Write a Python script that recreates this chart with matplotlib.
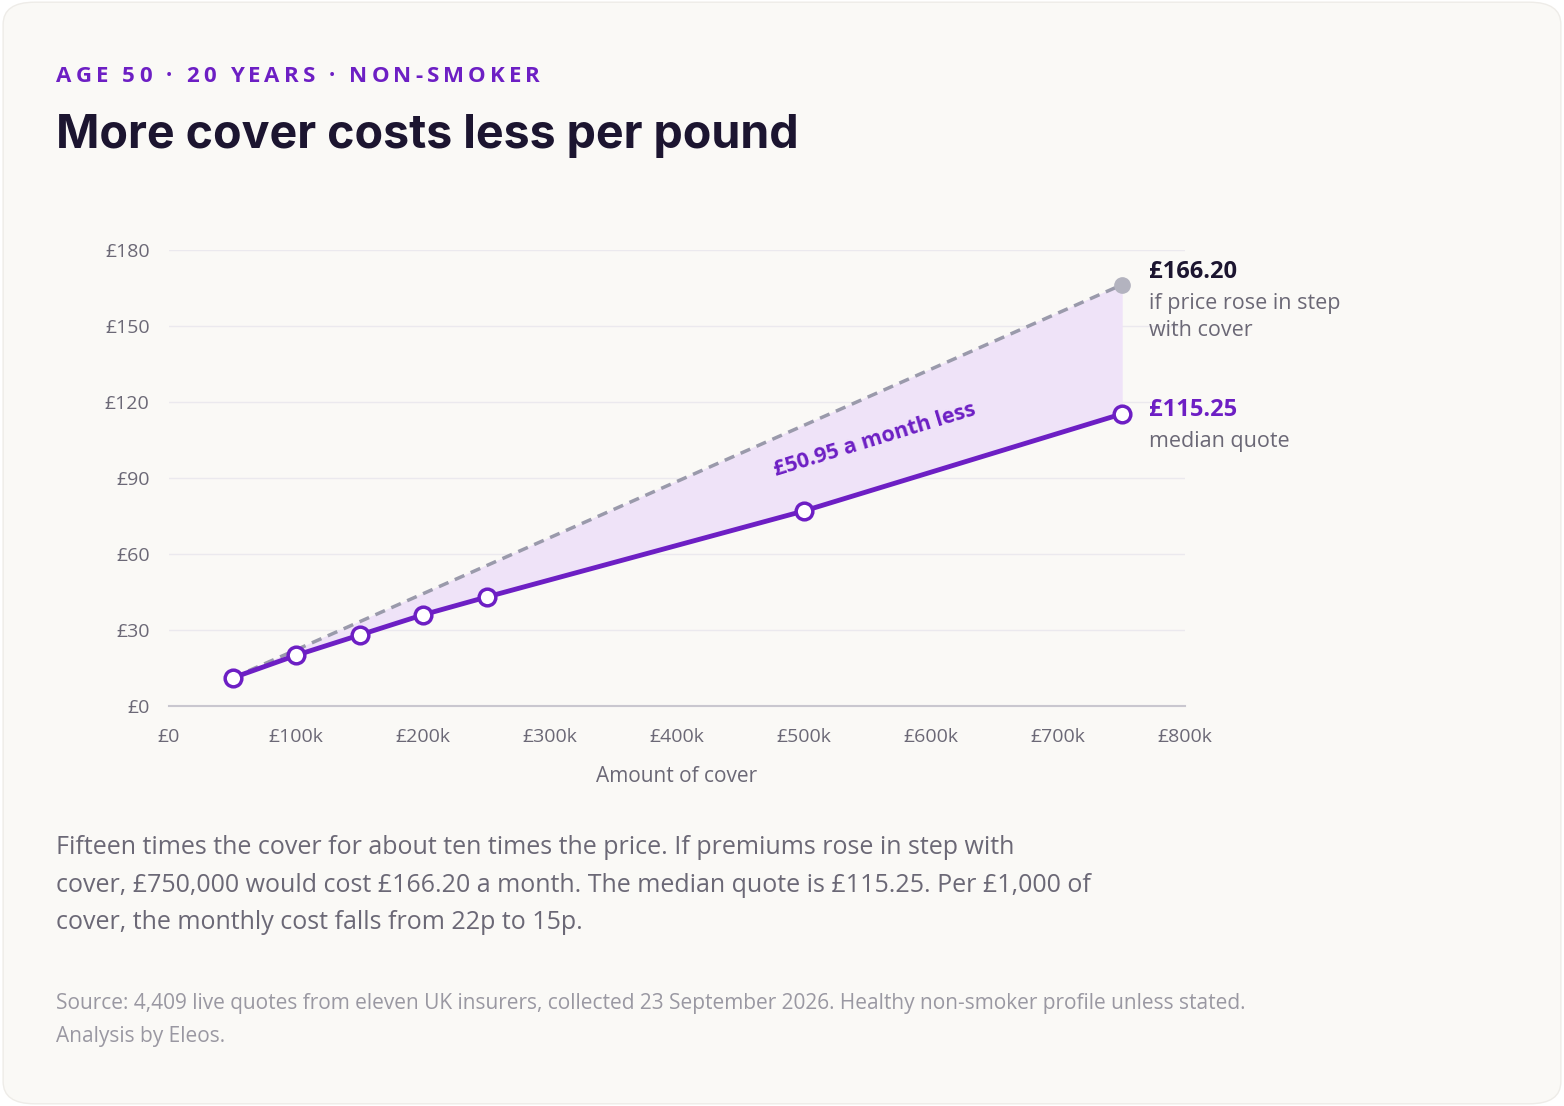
import matplotlib
matplotlib.use("Agg")
import matplotlib.pyplot as plt
from matplotlib.patches import FancyBboxPatch
import numpy as np

cover = [50000, 100000, 150000, 200000, 250000, 500000, 750000]
median = [11.08, 20.0, 28.0, 36.0, 43.0, 77.0, 115.25]
prop_x = [50000, 750000]
prop_y = [11.08, 166.20]
yticks = [0, 30, 60, 90, 120, 150, 180]
ytlabels = ["£0", "£30", "£60", "£90", "£120", "£150", "£180"]
xticks = [0, 100000, 200000, 300000, 400000, 500000, 600000, 700000, 800000]
xtlabels = ["£0", "£100k", "£200k", "£300k", "£400k", "£500k", "£600k", "£700k", "£800k"]

PURPLE = "#6d1fc4"
GREY = "#6b6876"
BG = "#faf9f6"
BODY = ['Open Sans', 'DejaVu Sans']
plt.rcParams['font.family'] = BODY

fig = plt.figure(figsize=(15.64, 11.06), dpi=100, facecolor="white")
fig.patches.append(FancyBboxPatch((0.002, 0.002), 0.996, 0.996, boxstyle="round,pad=0,rounding_size=0.02",
                                  transform=fig.transFigure, facecolor=BG, edgecolor="#eeece8", zorder=-10))

# letter-spaced eyebrow
eyebrow = "AGE 50 · 20 YEARS · NON-SMOKER"
target_w = (540 - 56) / 1564
n = len(eyebrow)
renderer = fig.canvas.get_renderer()
widths = []
for ch in eyebrow:
    t = fig.text(0, 0, ch if ch != " " else "a", fontsize=16, fontweight="bold", family=BODY)
    w = t.get_window_extent(renderer).width / 1564
    if ch == " ":
        w *= 0.45
    widths.append(w)
    t.remove()
gap = (target_w - sum(widths)) / (n - 1)
x = 56 / 1564
for ch, w in zip(eyebrow, widths):
    fig.text(x, 1-76/1106, ch, color=PURPLE, fontsize=16, fontweight="bold", va="center", ha="left")
    x += w + gap

fig.text(56/1564, 1-136/1106, "More cover costs less per pound", color="#1c1530", fontsize=33.5,
         fontweight="bold", va="center", ha="left", family=['Inter', 'DejaVu Sans'])

ax = fig.add_axes([169/1564, 1-706/1106, 1016/1564, 456/1106])
ax.set_facecolor(BG)
ax.set_xlim(0, 800000)
ax.set_ylim(0, 180)
for s in ["top", "right", "left"]:
    ax.spines[s].set_visible(False)
ax.spines["bottom"].set_color("#c9c7cf")
ax.spines["bottom"].set_linewidth(1.5)
ax.set_yticks(yticks, ytlabels)
ax.set_xticks(xticks, xtlabels)
ax.tick_params(length=0, labelsize=14, labelcolor=GREY)
ax.tick_params(axis="x", pad=16)
ax.tick_params(axis="y", pad=14)
ax.grid(axis="y", color="#ebe9ee", linewidth=1)
ax.set_axisbelow(True)
ax.set_xlabel("Amount of cover", fontsize=15, color=GREY, labelpad=14)

px = np.array(cover, dtype=float)
py = np.interp(px, prop_x, prop_y)
ax.fill_between(px, median, py, color="#efe3f8", zorder=1)
ax.plot(prop_x, prop_y, color="#9a9aab", lw=2.5, ls=(0, (3, 2)), zorder=2)
ax.plot(prop_x[-1], prop_y[-1], "o", color="#b3b3bf", ms=11, zorder=3, clip_on=False)
ax.plot(cover, median, color=PURPLE, lw=3.5, zorder=4)
ax.plot(cover, median, "o", color=PURPLE, mfc="white", mew=2.5, ms=12, zorder=5, clip_on=False)

ax.text(556000, 105, "£50.95 a month less", color=PURPLE, fontsize=15.5, fontweight="bold",
        rotation=17, ha="center", va="center", rotation_mode="anchor")

ax.text(772000, 171.5, "£166.20", color="#1c1530", fontsize=17, fontweight="bold", va="center", clip_on=False)
ax.text(772000, 153.5, "if price rose in step\nwith cover", color=GREY, fontsize=15.5, va="center",
        linespacing=1.4, clip_on=False)
ax.text(772000, 117, "£115.25", color=PURPLE, fontsize=17, fontweight="bold", va="center", clip_on=False)
ax.text(772000, 104.5, "median quote", color=GREY, fontsize=15.5, va="center", clip_on=False)

fig.text(56/1564, 1-885/1106,
         "Fifteen times the cover for about ten times the price. If premiums rose in step with\n"
         "cover, £750,000 would cost £166.20 a month. The median quote is £115.25. Per £1,000 of\n"
         "cover, the monthly cost falls from 22p to 15p.",
         color=GREY, fontsize=18, va="center", ha="left", linespacing=1.65)
fig.text(56/1564, 1-1020/1106,
         "Source: 4,409 live quotes from eleven UK insurers, collected 23 September 2026. Healthy non-smoker profile unless stated.\n"
         "Analysis by Eleos.",
         color="#9a98a2", fontsize=15, va="center", ha="left", linespacing=1.75)

fig.savefig("out.png", dpi=100, facecolor="white")
